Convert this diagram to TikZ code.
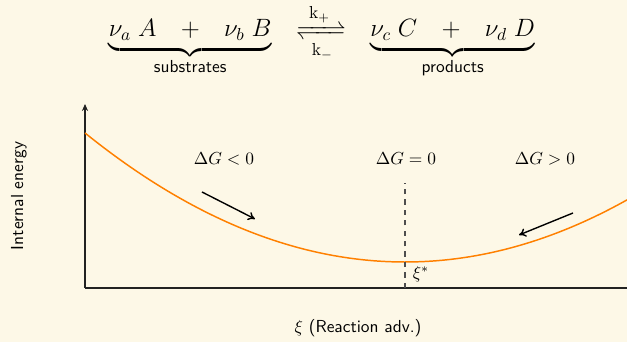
\documentclass[tikz,border=0pt]{standalone}
\usepackage{mathtools}
\usetikzlibrary{arrows.meta}
\definecolor{bgc}{HTML}{FDF8E7}
\definecolor{curvec}{HTML}{FF8000}
\definecolor{axisc}{HTML}{222222}
\begin{document}
\begin{tikzpicture}[x=0.575pt,y=-0.575pt,
  axisline/.style={draw=axisc,line width=0.6pt},
  energy/.style={draw=curvec,line width=0.85pt},
  hint/.style={draw=black,line width=0.8pt,-{To[length=4pt,width=5pt]}},
  label/.style={font=\normalsize}]
\fill[bgc] (0,0) rectangle (627,342);
\useasboundingbox (0,0) rectangle (627,342);
\node[anchor=base,inner sep=0pt,font=\Large] (eq) at (322,37)
  {$\underbrace{\nu_a\; A \hspace{0.75em} + \hspace{0.75em} \nu_b\; B}_{\text{\sffamily substrates}}
   \hspace{0.7em}\xrightleftharpoons[\mkern8mu\mathrm{k}_-\mkern8mu]{\mkern8mu\mathrm{k}_+\mkern8mu}\hspace{0.7em}
   \underbrace{\nu_c\; C \hspace{0.75em} + \hspace{0.75em} \nu_d\; D}_{\text{\sffamily products}}$};
\coordinate (o) at (85,288);
\coordinate (ytop) at (85,104);
\coordinate (xend) at (627,288);
\draw[axisline,-{Stealth[length=4pt,width=3.5pt]}] (o) -- (ytop);
\draw[axisline] (o) -- (xend);
\draw[energy] plot[domain=85:627,samples=80,smooth] (\x,{262-12.6*((\x-405)/100)^2});
\coordinate (xs) at (405,288);
\coordinate (dtop) at (405,183);
\draw[axisline,dashed,draw=axisc!80] (xs) -- (dtop);
\node[label] (xistar) at (421,274) {$\xi^*$};
\node[label] (lt) at (224,159) {$\Delta G < 0$};
\node[label] (eqz) at (406,159) {$\Delta G = 0$};
\node[label] (gt) at (545,159) {$\Delta G > 0$};
\coordinate (a1s) at (202,192);
\coordinate (a1e) at (255,219);
\coordinate (a2s) at (573,213);
\coordinate (a2e) at (519,235);
\draw[hint] (a1s) -- (a1e);
\draw[hint] (a2s) -- (a2e);
\node[rotate=90,font=\sffamily] (ylab) at (19,196) {Internal energy};
\node (xlab) at (358,328) {$\xi$ \textsf{(Reaction adv.)}};
\end{tikzpicture}
\end{document}
